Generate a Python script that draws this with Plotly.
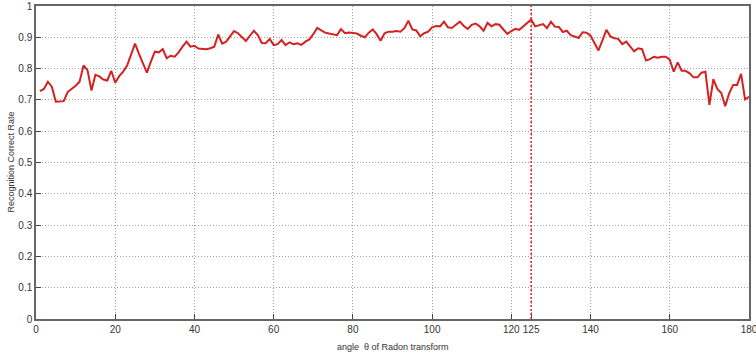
import plotly.graph_objects as go

angles = list(range(1, 181))
rate = [
    0.728, 0.735, 0.758, 0.742, 0.694, 0.694, 0.696, 0.725, 0.734, 0.745,
    0.758, 0.810, 0.795, 0.730, 0.780, 0.775, 0.765, 0.762, 0.793, 0.755,
    0.776, 0.790, 0.810, 0.845, 0.880, 0.847, 0.815, 0.787, 0.822, 0.854,
    0.852, 0.862, 0.833, 0.841, 0.838, 0.852, 0.870, 0.886, 0.870, 0.873,
    0.864, 0.862, 0.862, 0.865, 0.870, 0.909, 0.880, 0.886, 0.905, 0.920,
    0.913, 0.900, 0.888, 0.905, 0.921, 0.907, 0.882, 0.881, 0.895, 0.875,
    0.878, 0.891, 0.875, 0.884, 0.878, 0.881, 0.876, 0.886, 0.893, 0.910,
    0.930, 0.922, 0.915, 0.912, 0.910, 0.907, 0.926, 0.913, 0.915, 0.913,
    0.912, 0.905, 0.900, 0.915, 0.925, 0.910, 0.889, 0.913, 0.918, 0.918,
    0.920, 0.918, 0.929, 0.953, 0.925, 0.922, 0.903, 0.913, 0.918, 0.932,
    0.936, 0.935, 0.950, 0.932, 0.930, 0.940, 0.950, 0.936, 0.927, 0.940,
    0.944, 0.935, 0.921, 0.946, 0.935, 0.942, 0.940, 0.925, 0.911, 0.920,
    0.927, 0.924, 0.935, 0.948, 0.957, 0.935, 0.939, 0.942, 0.929, 0.950,
    0.934, 0.933, 0.917, 0.921, 0.907, 0.902, 0.898, 0.916, 0.915, 0.905,
    0.880, 0.858, 0.890, 0.924, 0.903, 0.897, 0.895, 0.878, 0.886, 0.872,
    0.855, 0.865, 0.862, 0.826, 0.830, 0.838, 0.835, 0.838, 0.838, 0.828,
    0.790, 0.820, 0.793, 0.793, 0.785, 0.772, 0.772, 0.787, 0.790, 0.684,
    0.766, 0.735, 0.722, 0.680, 0.721, 0.748, 0.748, 0.783, 0.702, 0.710,
]

x_ticks = [0, 20, 40, 60, 80, 100, 120, 125, 140, 160, 180]
y_ticks = [0, 0.1, 0.2, 0.3, 0.4, 0.5, 0.6, 0.7, 0.8, 0.9, 1]
y_tick_text = ["0", "0.1", "0.2", "0.3", "0.4", "0.5", "0.6", "0.7", "0.8", "0.9", "1"]
best_angle = 125

x_title = "angle  θ of Radon transform"
y_title = "Recognition Correct Rate"

fig = go.Figure()
fig.add_trace(go.Scatter(
    x=angles, y=rate, mode="lines",
    line=dict(color="#d42222", width=2),
    showlegend=False,
))

fig.add_shape(type="line", xref="x", yref="y",
              x0=best_angle, x1=best_angle, y0=0, y1=1,
              line=dict(color="#e02020", width=1.5, dash="2px,2px"))

axis_font = dict(family="Liberation Sans, Arial, sans-serif", size=10, color="#333")

fig.update_layout(
    width=756, height=353,
    margin=dict(l=36, r=7, t=6, b=34),
    paper_bgcolor="white", plot_bgcolor="white",
    font=axis_font,
    xaxis=dict(
        range=[0, 180], tickvals=x_ticks, ticktext=[str(v) for v in x_ticks],
        showgrid=True, gridcolor="#a0a0a0", griddash="1px,2px", gridwidth=1,
        showline=True, linecolor="#666", linewidth=1.5, mirror=True,
        ticks="inside", ticklen=5, tickcolor="#444", zeroline=False,
        tickfont=axis_font, ticklabeloverflow="allow", automargin=False,
    ),
    yaxis=dict(
        range=[0, 1], tickvals=y_ticks, ticktext=y_tick_text,
        showgrid=True, gridcolor="#a0a0a0", griddash="1px,2px", gridwidth=1,
        showline=True, linecolor="#666", linewidth=1.5, mirror=True,
        ticks="inside", ticklen=5, tickcolor="#444", zeroline=False,
        tickfont=axis_font, ticklabeloverflow="allow", automargin=False,
    ),
    annotations=[
        dict(text=x_title, xref="paper", yref="paper", x=0.5, y=0,
             yshift=-28, showarrow=False, xanchor="center", yanchor="middle",
             font=dict(family="Liberation Sans, Arial, sans-serif", size=9, color="#333")),
        dict(text=y_title, xref="paper", yref="paper", x=0, y=0.5,
             xshift=-26, showarrow=False, textangle=-90,
             xanchor="center", yanchor="middle",
             font=dict(family="Liberation Sans, Arial, sans-serif", size=9, color="#333")),
    ],
)

fig.write_html("out.html")
